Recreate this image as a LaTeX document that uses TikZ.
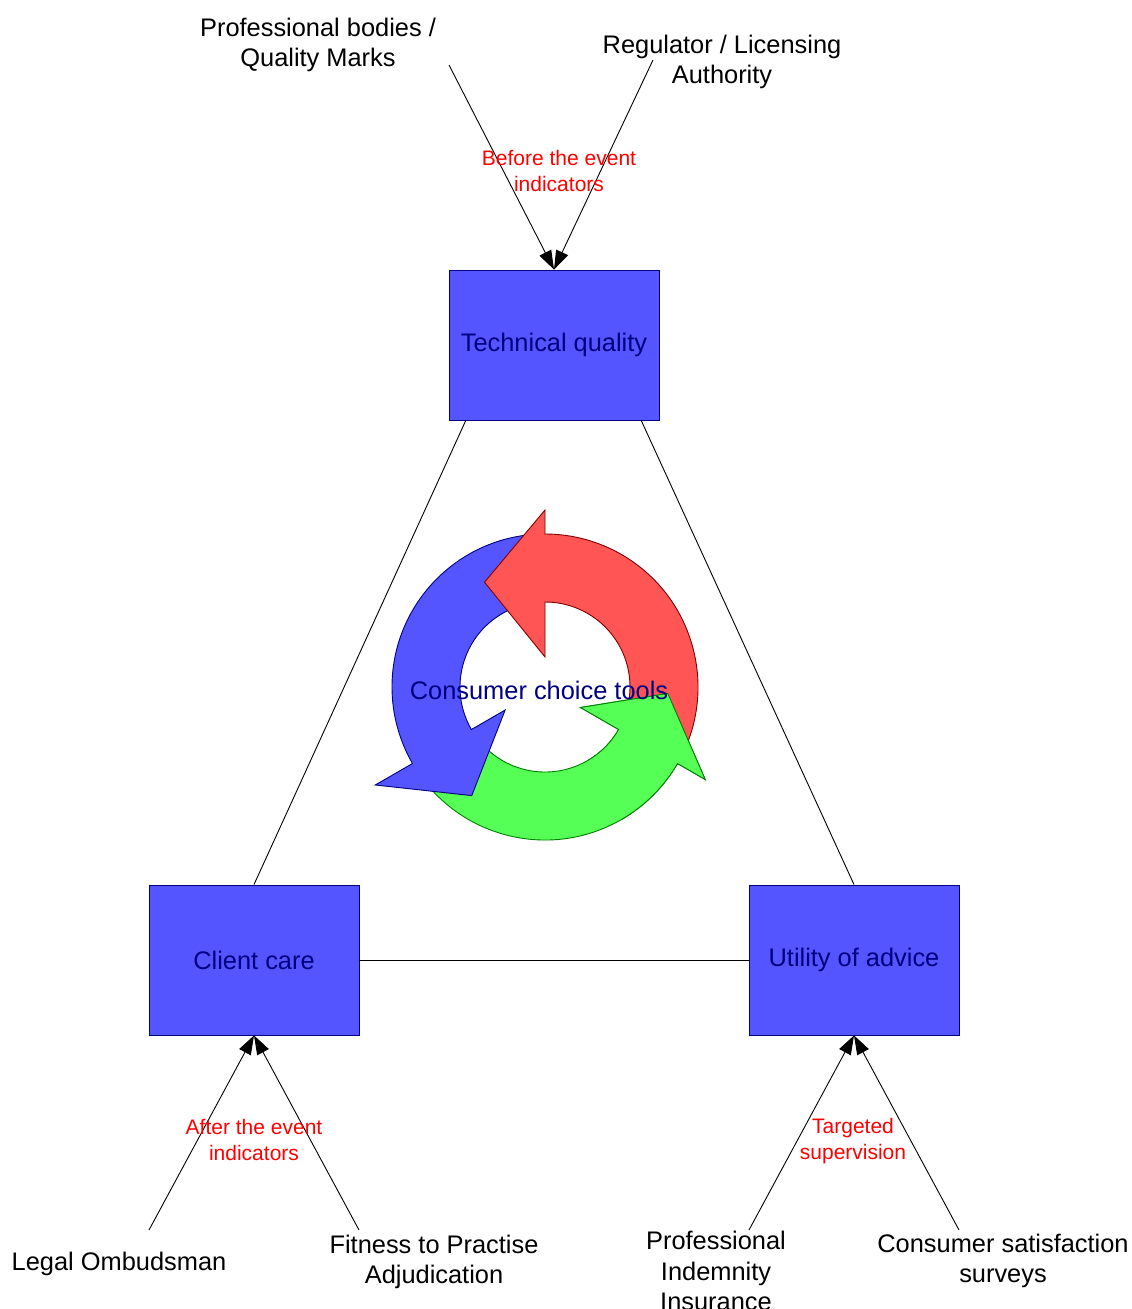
\documentclass[tikz,border=0pt]{standalone}
\usepackage{fontspec}
\setmainfont{Liberation Sans}
\usetikzlibrary{arrows.meta}

\definecolor{boxblue}{RGB}{85,85,255}
\definecolor{boxline}{RGB}{0,0,128}
\definecolor{cyclered}{RGB}{255,85,85}
\definecolor{cyclereddark}{RGB}{128,0,0}
\definecolor{cyclegreen}{RGB}{85,255,85}
\definecolor{cyclegreendark}{RGB}{0,128,0}

% one of the three bent arrows, shaft ends at angle #1
% head: inner corner #2, outer corner #3, tip #5 at angle #1+#4
\newcommand{\cyclearrow}[5]{%
  ({#1-120}:153) arc[start angle={#1-120}, end angle={#1}, radius=153]
  -- ({#1}:#3) -- ({#1+#4}:#5) -- ({#1}:#2) -- ({#1}:85)
  arc[start angle={#1}, end angle={#1-120}, radius=85] -- cycle}

\begin{document}
\begin{tikzpicture}[x=1pt,y=-1pt,
  box/.style={draw=boxline,fill=boxblue,line width=0.9pt,minimum width=210pt,minimum height=150pt,
    inner sep=0pt,text=boxline,font=\fontsize{25.4}{30.5}\selectfont},
  lbl/.style={align=center,inner sep=0pt,font=\fontsize{25.4}{30.5}\selectfont},
  note/.style={align=center,inner sep=0pt,text=red,font=\fontsize{21}{26}\selectfont},
  arr/.style={line width=0.9pt,-{Triangle[length=19pt,width=13pt]}},
  link/.style={line width=0.9pt}]
\useasboundingbox (0,0) rectangle (1132,1309);

\node[box] at (554,345) (tech) {Technical quality};
\node[box] at (254,960) (client) {Client care};
\node[box] at (854,960) (util) {Utility of advice};

\draw[link] (466,420) coordinate (techbl) -- (client.north);
\draw[link] (641,420) coordinate (techbr) -- (util.north);
\draw[link] (client) -- (util);

% cycle in the middle
\begin{scope}[shift={(545,687)},yscale=-1,line width=0.9pt]
\filldraw[fill=cyclegreen,draw=cyclegreendark] \cyclearrow{330}{41}{185}{27}{123};
\filldraw[fill=boxblue,draw=boxline] \cyclearrow{210}{46}{196}{26}{131};
\filldraw[fill=cyclered,draw=cyclereddark] \cyclearrow{90}{30}{177}{30}{121};
\begin{scope}
\clip (0,0) -- (300:230) arc[start angle=300, end angle=380, radius=230] -- cycle;
\filldraw[fill=cyclegreen,draw=cyclegreendark] \cyclearrow{330}{41}{185}{27}{123};
\end{scope}
\end{scope}
\node[lbl,text=boxline] at (539,690) (tools) {Consumer choice tools};

% before the event
\node[lbl] at (318,45) (prof) {Professional bodies /\\Quality Marks};
\node[lbl] at (722,62) (reg) {Regulator / Licensing\\Authority};
\coordinate (profend) at (449,65);
\coordinate (regend) at (653,60);
\draw[arr] (profend) -- (tech.north);
\draw[arr] (regend) -- (tech.north);
\node[note] at (559,171) (before) {Before the event\\indicators};

% after the event
\node[lbl] at (119,1264) (ombud) {Legal Ombudsman};
\node[lbl] at (434,1262) (fit) {Fitness to Practise\\Adjudication};
\coordinate (ombudend) at (149,1230);
\coordinate (fitend) at (359,1230);
\draw[arr] (ombudend) -- (client.south);
\draw[arr] (fitend) -- (client.south);
\node[note] at (254,1140) (after) {After the event\\indicators};

% targeted supervision
\node[lbl] at (716,1271) (pii) {Professional\\Indemnity\\Insurance};
\node[lbl] at (1003,1261) (survey) {Consumer satisfaction\\surveys};
\coordinate (piiend) at (749,1230);
\coordinate (surveyend) at (959,1230);
\draw[arr] (piiend) -- (util.south);
\draw[arr] (surveyend) -- (util.south);
\node[note] at (853,1141) (target) {Targeted\\supervision};
\end{tikzpicture}
\end{document}
